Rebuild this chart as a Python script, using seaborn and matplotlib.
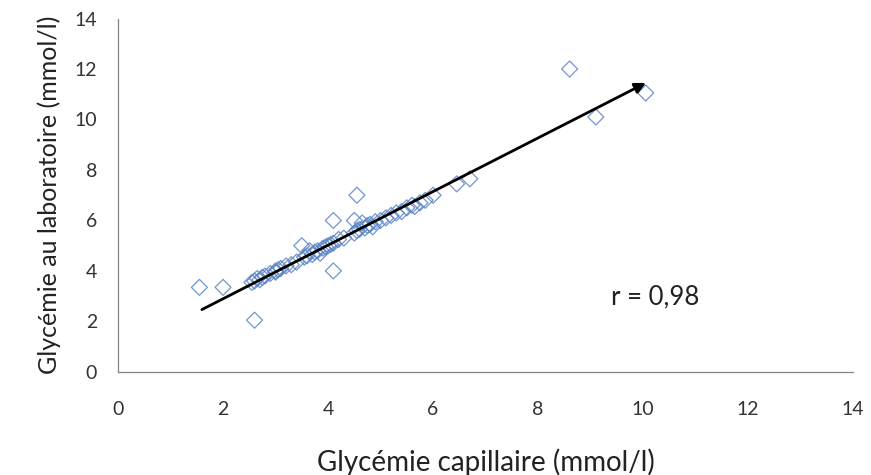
import matplotlib

matplotlib.use("Agg")
import matplotlib.pyplot as plt
import pandas as pd
import seaborn as sns

sns.set_theme(style="white")
plt.rcParams["font.family"] = ["Lato", "DejaVu Sans"]

# glycémie capillaire (x) vs glycémie au laboratoire (y), mmol/l
capillaire = [
    1.55, 2.0, 2.6, 4.1, 3.5, 4.1, 4.55, 4.5, 8.6, 9.1, 10.05, 6.45, 6.7, 6.0,
    2.55, 2.6, 2.65, 2.75, 2.8, 2.9, 3.0, 3.05, 3.1, 3.2, 3.3, 3.4, 3.55, 3.6,
    3.7, 3.75, 3.8, 3.85, 3.9, 3.95, 4.0, 4.05, 4.1, 4.2, 4.3, 4.5, 4.55, 4.6,
    4.7, 4.75, 4.8, 4.85, 4.9, 5.0, 5.1, 5.2, 5.3, 5.4, 5.5, 5.6, 5.65, 5.75,
    5.85, 3.65, 4.65, 3.0, 2.7,
]
laboratoire = [
    3.35, 3.35, 2.05, 4.0, 5.0, 6.0, 7.0, 6.0, 12.0, 10.1, 11.05, 7.45, 7.65, 7.0,
    3.55, 3.6, 3.7, 3.75, 3.8, 3.9, 4.0, 4.05, 4.1, 4.2, 4.25, 4.35, 4.55, 4.6,
    4.65, 4.75, 4.8, 4.7, 4.9, 4.95, 5.0, 5.05, 5.1, 5.25, 5.3, 5.5, 5.6, 5.65,
    5.7, 5.8, 5.85, 5.75, 5.95, 6.0, 6.1, 6.2, 6.3, 6.35, 6.5, 6.6, 6.55, 6.7,
    6.8, 4.8, 5.9, 3.95, 3.65,
]
arrow_start = (1.55, 2.42)
arrow_end = (10.1, 11.5)
r_label = "r = 0,98"

df = pd.DataFrame({"capillaire": capillaire, "laboratoire": laboratoire})

fig = plt.figure(figsize=(8.71, 4.75), dpi=100)
ax = fig.add_axes([0.1355, 0.217, 0.844, 0.744])

sns.scatterplot(
    data=df,
    x="capillaire",
    y="laboratoire",
    marker="D",
    s=66,
    facecolor="none",
    edgecolor="#5b84c4",
    linewidth=0.9,
    alpha=0.85,
    ax=ax,
)

ax.annotate(
    "",
    xy=arrow_end,
    xytext=arrow_start,
    arrowprops=dict(arrowstyle="-|>", color="black", lw=2.0, mutation_scale=16),
)
ax.text(9.38, 2.98, r_label, fontsize=18.5, color="#222222", va="center", ha="left")

ax.set_xlim(0, 14)
ax.set_ylim(0, 14)
ax.set_xticks(range(0, 15, 2))
ax.set_yticks(range(0, 15, 2))
ax.tick_params(axis="both", length=5, width=0.8, color="#868686", labelsize=14,
               labelcolor="#333333", direction="out")
ax.tick_params(axis="x", pad=16)
ax.tick_params(axis="y", pad=10)
for side in ["top", "right"]:
    ax.spines[side].set_visible(False)
for side in ["left", "bottom"]:
    ax.spines[side].set_color("#868686")
    ax.spines[side].set_linewidth(0.9)

ax.set_xlabel("Glycémie capillaire (mmol/l)", fontsize=20, color="#222222", labelpad=22)
ax.set_ylabel("Glycémie au laboratoire (mmol/l)", fontsize=18, color="#222222", labelpad=10)

fig.savefig("out.png", dpi=100)
plt.close(fig)
